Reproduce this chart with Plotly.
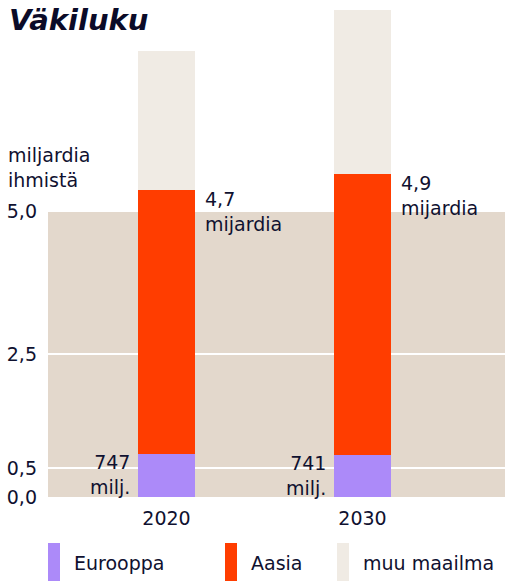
import plotly.graph_objects as go

years = ["2020", "2030"]
eurooppa = [0.747, 0.741]
aasia = [4.62, 4.906]
muu = [2.43, 2.867]
eur_labels = ["747<br>milj.", "741<br>milj."]
asia_labels = ["4,7<br>mijardia", "4,9<br>mijardia"]
tick_vals = [0, 0.5, 2.5, 5.0]
tick_text = ["0,0", "0,5", "2,5", "5,0"]
series_names = ["Eurooppa", "Aasia", "muu maailma"]

C_EUR = "#ac8af9"
C_ASIA = "#ff3d00"
C_MUU = "#f0ebe4"
C_BG = "#e3d8cc"
C_TXT = "#0f1130"
FONT = "DejaVu Sans"
FS = 19

W, H = 505, 581
ML, MR, MT, MB = 48, 0, 5, 84
PW, PH = W - ML - MR, H - MT - MB
XR = [-0.6046, 1.727]
PX_PER_X = PW / (XR[1] - XR[0])

fig = go.Figure()
bw = 0.291
for name, vals, col in zip(series_names, [eurooppa, aasia, muu], [C_EUR, C_ASIA, C_MUU]):
    fig.add_trace(go.Bar(x=years, y=vals, name=name, marker=dict(color=col, line=dict(width=0)),
                         width=bw, showlegend=False, hoverinfo="skip"))

fig.update_layout(
    barmode="stack",
    width=W, height=H,
    margin=dict(l=ML, r=MR, t=MT, b=MB, autoexpand=False),
    plot_bgcolor="white", paper_bgcolor="white",
    font=dict(family=FONT, size=FS, color=C_TXT),
    xaxis=dict(type="category", range=XR, showgrid=False, zeroline=False, automargin=False,
               showline=False, ticks="", ticklabelstandoff=8,
               tickfont=dict(size=FS, color=C_TXT)),
    yaxis=dict(range=[0, PH / 57.2], tickvals=tick_vals, ticktext=tick_text, automargin=False,
               showgrid=True, gridcolor="white", gridwidth=2, zeroline=False,
               showline=False, ticks="", ticklabelstandoff=10,
               tickfont=dict(size=FS, color=C_TXT)),
)

# beige background 0..5
fig.add_shape(type="rect", xref="paper", yref="y", x0=0, x1=1, y0=0, y1=5.0,
              fillcolor=C_BG, line=dict(width=0), layer="below")

# title
fig.add_annotation(text="Väkiluku", xref="paper", yref="paper",
                   x=(7 - ML) / PW, y=1 + (MT - 1) / PH, xanchor="left", yanchor="top",
                   showarrow=False,
                   font=dict(family=FONT, size=29, color="#0b0b28", weight="bold", style="italic"))

# y-axis unit label
fig.add_annotation(text="miljardia<br>ihmistä", xref="paper", yref="paper",
                   x=(6 - ML) / PW, y=(H - MB - 142) / PH, xanchor="left", yanchor="top",
                   align="left", showarrow=False, font=dict(size=FS, color=C_TXT))

for i, y in enumerate(years):
    fig.add_annotation(text=asia_labels[i], x=i, y=eurooppa[i] + aasia[i], xref="x", yref="y",
                       xanchor="left", yanchor="top", align="left", showarrow=False,
                       xshift=bw / 2 * PX_PER_X + 8, yshift=4,
                       font=dict(size=FS, color=C_TXT))
    fig.add_annotation(text=eur_labels[i], x=i, y=eurooppa[i], xref="x", yref="y",
                       xanchor="right", yanchor="top", align="right", showarrow=False,
                       xshift=-(bw / 2 * PX_PER_X + 6), yshift=5,
                       font=dict(size=FS, color=C_TXT))

# legend
leg_x = [48, 225, 337]
for name, col, lx in zip(series_names, [C_EUR, C_ASIA, C_MUU], leg_x):
    fig.add_shape(type="rect", xref="paper", yref="paper",
                  x0=(lx - ML) / PW, x1=(lx + 12 - ML) / PW,
                  y0=(H - MB - 581) / PH, y1=(H - MB - 543) / PH,
                  fillcolor=col, line=dict(width=0))
    fig.add_annotation(text=name, xref="paper", yref="paper",
                       x=(lx + 24 - ML) / PW, y=(H - MB - 563) / PH,
                       xanchor="left", yanchor="middle", showarrow=False,
                       font=dict(size=FS, color=C_TXT))

fig.write_html("out.html", config={"displayModeBar": False},
               post_script="document.body.style.margin='0';document.body.style.overflow='hidden';")
